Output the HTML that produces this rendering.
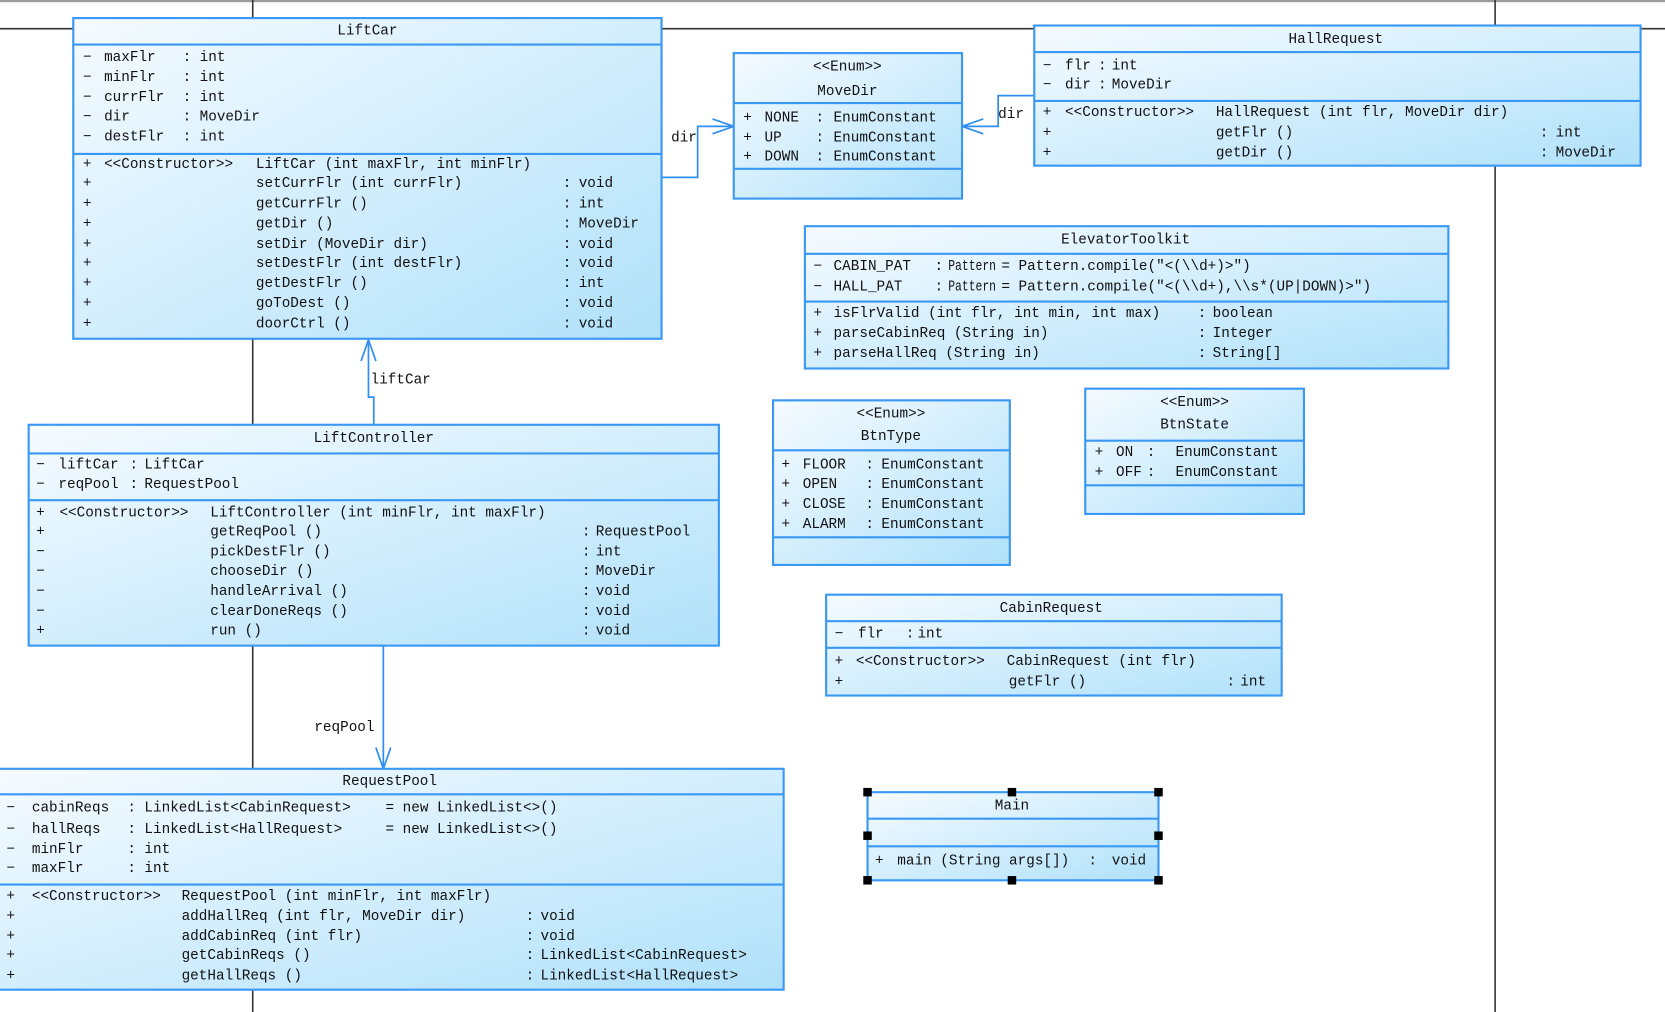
<!DOCTYPE html>
<html><head><meta charset="utf-8"><style>
html,body{margin:0;padding:0;background:#fff;overflow:hidden}
svg{display:block}
text{font-family:"Liberation Mono",monospace;font-size:13.5px;fill:#111;dominant-baseline:central}
.t{text-anchor:middle}
.b{fill:url(#g);stroke:#3a98f5;stroke-width:2}
.s{stroke:#3a98f5;stroke-width:2}
.c{stroke:#2f8ff0;stroke-width:1.6;fill:none}
.k{stroke:#333;stroke-width:1.5}
.h{fill:#000}
</style></head><body>
<svg width="1665" height="1012" viewBox="0 0 1568 953" xmlns="http://www.w3.org/2000/svg">
<defs><linearGradient id="g" x1="0" y1="0" x2="1" y2="1"><stop offset="0" stop-color="#f6fbff"/><stop offset="1" stop-color="#b0e1fa"/></linearGradient></defs>
<rect x="0" y="0" width="1568" height="2" fill="#999"/>
<line class="k" x1="0" y1="27" x2="1568" y2="27"/>
<line class="k" x1="238" y1="0" x2="238" y2="953"/>
<line class="k" x1="1408" y1="0" x2="1408" y2="953"/>

<!-- connectors -->
<path class="c" d="M623 167 H657 V119 H691"/><path class="c" d="M671 112 L691 119 L671 126"/>
<path class="c" d="M974 90 H940 V119 H906"/><path class="c" d="M926 112 L906 119 L926 126"/>
<path class="c" d="M352 400 V374 H347 V320"/><path class="c" d="M340 340 L347 320 L354 340"/>
<path class="c" d="M361 608 V724"/><path class="c" d="M354 704 L361 724 L368 704"/>

<!-- LiftCar -->
<rect class="b" x="69" y="17" width="554" height="302"/>
<line class="s" x1="69" y1="42" x2="623" y2="42"/><line class="s" x1="69" y1="145" x2="623" y2="145"/>
<!-- MoveDir -->
<rect class="b" x="691" y="50" width="215" height="137"/>
<line class="s" x1="691" y1="97" x2="906" y2="97"/><line class="s" x1="691" y1="159" x2="906" y2="159"/>
<!-- HallRequest -->
<rect class="b" x="974" y="24" width="571" height="132"/>
<line class="s" x1="974" y1="49" x2="1545" y2="49"/><line class="s" x1="974" y1="95" x2="1545" y2="95"/>
<!-- ElevatorToolkit -->
<rect class="b" x="758" y="213" width="606" height="134"/>
<line class="s" x1="758" y1="239" x2="1364" y2="239"/><line class="s" x1="758" y1="284" x2="1364" y2="284"/>
<!-- BtnType -->
<rect class="b" x="728" y="377" width="223" height="155"/>
<line class="s" x1="728" y1="424" x2="951" y2="424"/><line class="s" x1="728" y1="506" x2="951" y2="506"/>
<!-- BtnState -->
<rect class="b" x="1022" y="366" width="206" height="118"/>
<line class="s" x1="1022" y1="415" x2="1228" y2="415"/><line class="s" x1="1022" y1="457" x2="1228" y2="457"/>
<!-- LiftController -->
<rect class="b" x="27" y="400" width="650" height="208"/>
<line class="s" x1="27" y1="427" x2="677" y2="427"/><line class="s" x1="27" y1="471" x2="677" y2="471"/>
<!-- CabinRequest -->
<rect class="b" x="778" y="560" width="429" height="95"/>
<line class="s" x1="778" y1="585" x2="1207" y2="585"/><line class="s" x1="778" y1="610" x2="1207" y2="610"/>
<!-- RequestPool -->
<rect class="b" x="-2" y="724" width="740" height="208"/>
<line class="s" x1="-2" y1="748" x2="738" y2="748"/><line class="s" x1="-2" y1="833" x2="738" y2="833"/>
<!-- Main -->
<rect class="b" x="817" y="746" width="274" height="83"/>
<line class="s" x1="817" y1="771" x2="1091" y2="771"/><line class="s" x1="817" y1="797" x2="1091" y2="797"/>
<rect class="h" x="813" y="742" width="8" height="8"/><rect class="h" x="949" y="742" width="8" height="8"/><rect class="h" x="1087" y="742" width="8" height="8"/>
<rect class="h" x="813" y="783" width="8" height="8"/><rect class="h" x="1087" y="783" width="8" height="8"/>
<rect class="h" x="813" y="825" width="8" height="8"/><rect class="h" x="949" y="825" width="8" height="8"/><rect class="h" x="1087" y="825" width="8" height="8"/>

<g transform="translate(0,1.5)">
<text x="632" y="129">dir</text>
<text x="940" y="107">dir</text>
<text x="349" y="357">liftCar</text>
<text x="296" y="684">reqPool</text>

<text class="t" x="346" y="28">LiftCar</text>
<text x="78" y="53">−</text><text x="98" y="53">maxFlr</text><text x="172" y="53">:</text><text x="188" y="53">int</text>
<text x="78" y="72">−</text><text x="98" y="72">minFlr</text><text x="172" y="72">:</text><text x="188" y="72">int</text>
<text x="78" y="91">−</text><text x="98" y="91">currFlr</text><text x="172" y="91">:</text><text x="188" y="91">int</text>
<text x="78" y="109">−</text><text x="98" y="109">dir</text><text x="172" y="109">:</text><text x="188" y="109">MoveDir</text>
<text x="78" y="128">−</text><text x="98" y="128">destFlr</text><text x="172" y="128">:</text><text x="188" y="128">int</text>
<text x="78" y="154">+</text><text x="98" y="154">&lt;&lt;Constructor&gt;&gt;</text><text x="241" y="154">LiftCar (int maxFlr, int minFlr)</text>
<text x="78" y="172">+</text><text x="241" y="172">setCurrFlr (int currFlr)</text><text x="530" y="172">:</text><text x="545" y="172">void</text>
<text x="78" y="191">+</text><text x="241" y="191">getCurrFlr ()</text><text x="530" y="191">:</text><text x="545" y="191">int</text>
<text x="78" y="210">+</text><text x="241" y="210">getDir ()</text><text x="530" y="210">:</text><text x="545" y="210">MoveDir</text>
<text x="78" y="229">+</text><text x="241" y="229">setDir (MoveDir dir)</text><text x="530" y="229">:</text><text x="545" y="229">void</text>
<text x="78" y="247">+</text><text x="241" y="247">setDestFlr (int destFlr)</text><text x="530" y="247">:</text><text x="545" y="247">void</text>
<text x="78" y="266">+</text><text x="241" y="266">getDestFlr ()</text><text x="530" y="266">:</text><text x="545" y="266">int</text>
<text x="78" y="285">+</text><text x="241" y="285">goToDest ()</text><text x="530" y="285">:</text><text x="545" y="285">void</text>
<text x="78" y="304">+</text><text x="241" y="304">doorCtrl ()</text><text x="530" y="304">:</text><text x="545" y="304">void</text>

<text class="t" x="798" y="62">&lt;&lt;Enum&gt;&gt;</text><text class="t" x="798" y="85">MoveDir</text>
<text x="700" y="110">+</text><text x="720" y="110">NONE</text><text x="768" y="110">:</text><text x="785" y="110">EnumConstant</text>
<text x="700" y="129">+</text><text x="720" y="129">UP</text><text x="768" y="129">:</text><text x="785" y="129">EnumConstant</text>
<text x="700" y="147">+</text><text x="720" y="147">DOWN</text><text x="768" y="147">:</text><text x="785" y="147">EnumConstant</text>

<text class="t" x="1258" y="36">HallRequest</text>
<text x="982" y="61">−</text><text x="1003" y="61">flr</text><text x="1034" y="61">:</text><text x="1047" y="61">int</text>
<text x="982" y="79">−</text><text x="1003" y="79">dir</text><text x="1034" y="79">:</text><text x="1047" y="79">MoveDir</text>
<text x="982" y="105">+</text><text x="1003" y="105">&lt;&lt;Constructor&gt;&gt;</text><text x="1145" y="105">HallRequest (int flr, MoveDir dir)</text>
<text x="982" y="124">+</text><text x="1145" y="124">getFlr ()</text><text x="1450" y="124">:</text><text x="1465" y="124">int</text>
<text x="982" y="143">+</text><text x="1145" y="143">getDir ()</text><text x="1450" y="143">:</text><text x="1465" y="143">MoveDir</text>

<text class="t" x="1060" y="225">ElevatorToolkit</text>
<text x="766" y="250">−</text><text x="785" y="250">CABIN_PAT</text><text x="880" y="250">:</text><text x="893" y="250" textLength="45" lengthAdjust="spacingAndGlyphs">Pattern</text><text x="943" y="250">= Pattern.compile("&lt;(\\d+)&gt;")</text>
<text x="766" y="269">−</text><text x="785" y="269">HALL_PAT</text><text x="880" y="269">:</text><text x="893" y="269" textLength="45" lengthAdjust="spacingAndGlyphs">Pattern</text><text x="943" y="269">= Pattern.compile("&lt;(\\d+),\\s*(UP|DOWN)&gt;")</text>
<text x="766" y="294">+</text><text x="785" y="294">isFlrValid (int flr, int min, int max)</text><text x="1128" y="294">:</text><text x="1142" y="294">boolean</text>
<text x="766" y="313">+</text><text x="785" y="313">parseCabinReq (String in)</text><text x="1128" y="313">:</text><text x="1142" y="313">Integer</text>
<text x="766" y="332">+</text><text x="785" y="332">parseHallReq (String in)</text><text x="1128" y="332">:</text><text x="1142" y="332">String[]</text>

<text class="t" x="839" y="389">&lt;&lt;Enum&gt;&gt;</text><text class="t" x="839" y="410">BtnType</text>
<text x="736" y="437">+</text><text x="756" y="437">FLOOR</text><text x="815" y="437">:</text><text x="830" y="437">EnumConstant</text>
<text x="736" y="455">+</text><text x="756" y="455">OPEN</text><text x="815" y="455">:</text><text x="830" y="455">EnumConstant</text>
<text x="736" y="474">+</text><text x="756" y="474">CLOSE</text><text x="815" y="474">:</text><text x="830" y="474">EnumConstant</text>
<text x="736" y="493">+</text><text x="756" y="493">ALARM</text><text x="815" y="493">:</text><text x="830" y="493">EnumConstant</text>

<text class="t" x="1125" y="378">&lt;&lt;Enum&gt;&gt;</text><text class="t" x="1125" y="399">BtnState</text>
<text x="1031" y="425">+</text><text x="1051" y="425">ON</text><text x="1080" y="425">:</text><text x="1107" y="425">EnumConstant</text>
<text x="1031" y="444">+</text><text x="1051" y="444">OFF</text><text x="1080" y="444">:</text><text x="1107" y="444">EnumConstant</text>

<text class="t" x="352" y="412">LiftController</text>
<text x="34" y="437">−</text><text x="55" y="437">liftCar</text><text x="122" y="437">:</text><text x="136" y="437">LiftCar</text>
<text x="34" y="455">−</text><text x="55" y="455">reqPool</text><text x="122" y="455">:</text><text x="136" y="455">RequestPool</text>
<text x="34" y="482">+</text><text x="56" y="482">&lt;&lt;Constructor&gt;&gt;</text><text x="198" y="482">LiftController (int minFlr, int maxFlr)</text>
<text x="34" y="500">+</text><text x="198" y="500">getReqPool ()</text><text x="548" y="500">:</text><text x="561" y="500">RequestPool</text>
<text x="34" y="519">−</text><text x="198" y="519">pickDestFlr ()</text><text x="548" y="519">:</text><text x="561" y="519">int</text>
<text x="34" y="537">−</text><text x="198" y="537">chooseDir ()</text><text x="548" y="537">:</text><text x="561" y="537">MoveDir</text>
<text x="34" y="556">−</text><text x="198" y="556">handleArrival ()</text><text x="548" y="556">:</text><text x="561" y="556">void</text>
<text x="34" y="575">−</text><text x="198" y="575">clearDoneReqs ()</text><text x="548" y="575">:</text><text x="561" y="575">void</text>
<text x="34" y="593">+</text><text x="198" y="593">run ()</text><text x="548" y="593">:</text><text x="561" y="593">void</text>

<text class="t" x="990" y="572">CabinRequest</text>
<text x="786" y="596">−</text><text x="808" y="596">flr</text><text x="853" y="596">:</text><text x="864" y="596">int</text>
<text x="786" y="622">+</text><text x="806" y="622">&lt;&lt;Constructor&gt;&gt;</text><text x="948" y="622">CabinRequest (int flr)</text>
<text x="786" y="641">+</text><text x="950" y="641">getFlr ()</text><text x="1155" y="641">:</text><text x="1168" y="641">int</text>

<text class="t" x="367" y="735">RequestPool</text>
<text x="6" y="760">−</text><text x="30" y="760">cabinReqs</text><text x="120" y="760">:</text><text x="136" y="760">LinkedList&lt;CabinRequest&gt;</text><text x="363" y="760">= new LinkedList&lt;&gt;()</text>
<text x="6" y="780">−</text><text x="30" y="780">hallReqs</text><text x="120" y="780">:</text><text x="136" y="780">LinkedList&lt;HallRequest&gt;</text><text x="363" y="780">= new LinkedList&lt;&gt;()</text>
<text x="6" y="799">−</text><text x="30" y="799">minFlr</text><text x="120" y="799">:</text><text x="136" y="799">int</text>
<text x="6" y="817">−</text><text x="30" y="817">maxFlr</text><text x="120" y="817">:</text><text x="136" y="817">int</text>
<text x="6" y="843">+</text><text x="30" y="843">&lt;&lt;Constructor&gt;&gt;</text><text x="171" y="843">RequestPool (int minFlr, int maxFlr)</text>
<text x="6" y="862">+</text><text x="171" y="862">addHallReq (int flr, MoveDir dir)</text><text x="495" y="862">:</text><text x="509" y="862">void</text>
<text x="6" y="881">+</text><text x="171" y="881">addCabinReq (int flr)</text><text x="495" y="881">:</text><text x="509" y="881">void</text>
<text x="6" y="899">+</text><text x="171" y="899">getCabinReqs ()</text><text x="495" y="899">:</text><text x="509" y="899">LinkedList&lt;CabinRequest&gt;</text>
<text x="6" y="918">+</text><text x="171" y="918">getHallReqs ()</text><text x="495" y="918">:</text><text x="509" y="918">LinkedList&lt;HallRequest&gt;</text>

<text class="t" x="953" y="758">Main</text>
<text x="824" y="810">+</text><text x="845" y="810">main (String args[])</text><text x="1025" y="810">:</text><text x="1047" y="810">void</text>
</g>
</svg>
</body></html>
